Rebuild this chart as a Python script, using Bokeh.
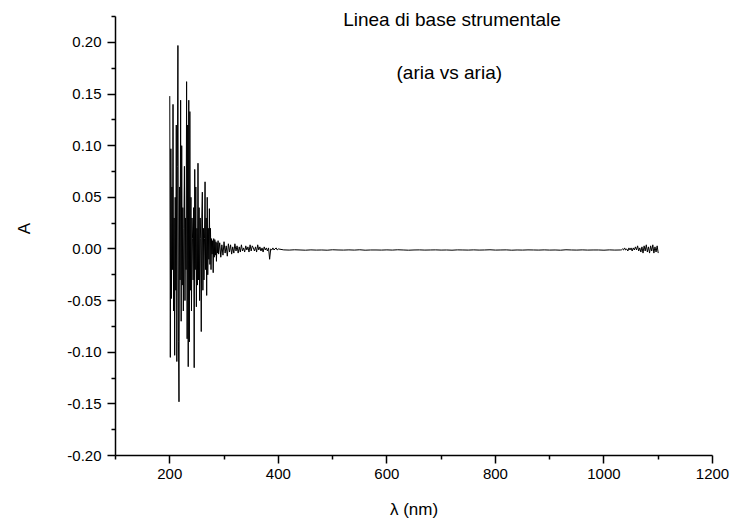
from bokeh.plotting import figure
from bokeh.models import FixedTicker, Label, Range1d, NumeralTickFormatter
from bokeh.embed import file_html
from bokeh.resources import INLINE

# ---- data ----
# dense noisy region, 1 nm step, 200..290
wl_noisy = list(range(200, 291))
a_noisy = [
    0.148, -0.105, 0.097, -0.048, 0.060, -0.020, 0.140, -0.060, 0.030, -0.103,
    0.050, -0.040, 0.120, -0.109, 0.080, 0.197, -0.090, -0.148, 0.060, -0.030,
    0.144, -0.070, 0.100, -0.035, 0.040, -0.060, 0.020, 0.080, -0.050, 0.030,
    -0.020, 0.162, -0.087, 0.120, -0.114, 0.144, -0.090, 0.133, -0.040, 0.050,
    -0.060, 0.030, 0.010, -0.030, 0.040, -0.115, 0.077, -0.020, 0.060, -0.056,
    0.020, -0.035, 0.083, -0.030, 0.040, -0.050, 0.030, 0.010, -0.080, 0.030,
    0.055, -0.040, 0.020, -0.030, 0.010, 0.065, -0.020, 0.030, -0.045, 0.050,
    -0.025, 0.020, -0.010, 0.039, -0.015, 0.020, -0.020, 0.010, -0.005, 0.008,
    -0.023, 0.010, -0.008, 0.009, -0.006, 0.007, -0.012, 0.006, -0.004, 0.008,
    -0.005,
]
# decaying noise, 2 nm step, 292..400
wl_decay = list(range(292, 401, 2))
a_decay = [
    0.006, -0.008, 0.004, -0.006, 0.007, -0.004, 0.003, -0.007, 0.005, -0.003,
    0.004, -0.005, 0.002, -0.004, 0.005, -0.002, 0.003, -0.004, 0.002, -0.003,
    0.004, -0.002, 0.001, -0.003, 0.003, -0.001, 0.002, -0.003, 0.004, -0.002,
    0.003, 0.001, -0.002, 0.002, -0.003, 0.004, -0.001, 0.002, -0.002, 0.001,
    -0.003, 0.002, -0.001, 0.001, -0.002, 0.001, -0.010, 0.000, -0.001, 0.001,
    -0.001, 0.000, 0.001, -0.001, 0.000,
]
# flat baseline, 10 nm step, 410..1030
wl_flat = list(range(410, 1031, 10))
a_flat = [
    -0.0009, -0.0011, -0.0008, -0.0010, -0.0012, -0.0009, -0.0011, -0.0010, -0.0012, -0.0008,
    -0.0010, -0.0011, -0.0009, -0.0011, -0.0008, -0.0012, -0.0010, -0.0010, -0.0011, -0.0009,
    -0.0011, -0.0008, -0.0010, -0.0012, -0.0010, -0.0009, -0.0011, -0.0010, -0.0009, -0.0011,
    -0.0010, -0.0012, -0.0009, -0.0010, -0.0011, -0.0009, -0.0011, -0.0010, -0.0008, -0.0011,
    -0.0010, -0.0009, -0.0012, -0.0010, -0.0011, -0.0009, -0.0010, -0.0011, -0.0009, -0.0011,
    -0.0010, -0.0012, -0.0008, -0.0010, -0.0011, -0.0009, -0.0011, -0.0010, -0.0010, -0.0012,
    -0.0009, -0.0011, -0.0010,
]
# noisy tail, 2 nm step, 1032..1100
wl_tail = list(range(1032, 1101, 2))
a_tail = [
    -0.001, 0.000, -0.001, 0.001, -0.001, 0.000, -0.002, 0.001, -0.001, 0.001,
    -0.002, 0.001, -0.001, 0.002, -0.001, 0.003, -0.002, 0.001, -0.003, 0.002,
    -0.004, 0.003, -0.002, 0.004, -0.003, 0.002, -0.004, 0.003, -0.002, 0.004,
    -0.004, 0.002, -0.003, 0.003, -0.004,
]

x_major = [200, 400, 600, 800, 1000, 1200]
x_minor = [100, 300, 500, 700, 900, 1100]
y_major = [-0.20, -0.15, -0.10, -0.05, 0.00, 0.05, 0.10, 0.15, 0.20]
y_minor = [-0.175, -0.125, -0.075, -0.025, 0.025, 0.075, 0.125, 0.175, 0.225]

title_1 = "Linea di base strumentale"
title_2 = "(aria vs aria)"
x_title = "\u03bb (nm)"
y_title = "A"

wl = wl_noisy + wl_decay + wl_flat + wl_tail
absorb = a_noisy + a_decay + a_flat + a_tail

FONT = "Liberation Sans"

p = figure(
    output_backend="svg", toolbar_location=None,
    frame_width=597, frame_height=454,
    min_border_left=115, min_border_right=20, min_border_top=1, min_border_bottom=70,
    x_range=Range1d(100, 1200), y_range=Range1d(-0.20, 0.2396),
)
p.outline_line_color = None
p.xgrid.visible = False
p.ygrid.visible = False
p.background_fill_color = "white"
p.border_fill_color = "white"

p.line(wl, absorb, line_color="black", line_width=1)

for ax in (p.xaxis[0], p.yaxis[0]):
    ax.axis_line_color = "black"
    ax.axis_line_width = 1.5
    ax.major_tick_line_width = 1.5
    ax.minor_tick_line_width = 1.5
    ax.major_tick_out = 8
    ax.major_tick_in = 0
    ax.minor_tick_out = 4
    ax.minor_tick_in = 0
    ax.major_label_text_font = FONT
    ax.major_label_text_font_size = "15px"
    ax.major_label_text_color = "black"
    ax.axis_label_text_font = FONT
    ax.axis_label_text_font_size = "17px"
    ax.axis_label_text_font_style = "normal"
    ax.axis_label_text_color = "black"

p.yaxis[0].bounds = (-0.20, 0.225)
p.xaxis[0].ticker = FixedTicker(ticks=x_major, minor_ticks=x_minor)
p.yaxis[0].ticker = FixedTicker(ticks=y_major, minor_ticks=y_minor)
p.yaxis[0].formatter = NumeralTickFormatter(format="0.00")
p.xaxis[0].axis_label = x_title
p.yaxis[0].axis_label = y_title
p.xaxis[0].major_label_standoff = 5
p.yaxis[0].major_label_standoff = 6
p.xaxis[0].axis_label_standoff = 18
p.yaxis[0].axis_label_standoff = 30

p.add_layout(Label(x=720, y=0.2223, text=title_1, text_align="center", text_baseline="middle",
                   text_font=FONT, text_font_size="19px", text_color="black"))
p.add_layout(Label(x=715, y=0.171, text=title_2, text_align="center", text_baseline="middle",
                   text_font=FONT, text_font_size="19px", text_color="black"))

open("out.html", "w").write(file_html(p, INLINE))
